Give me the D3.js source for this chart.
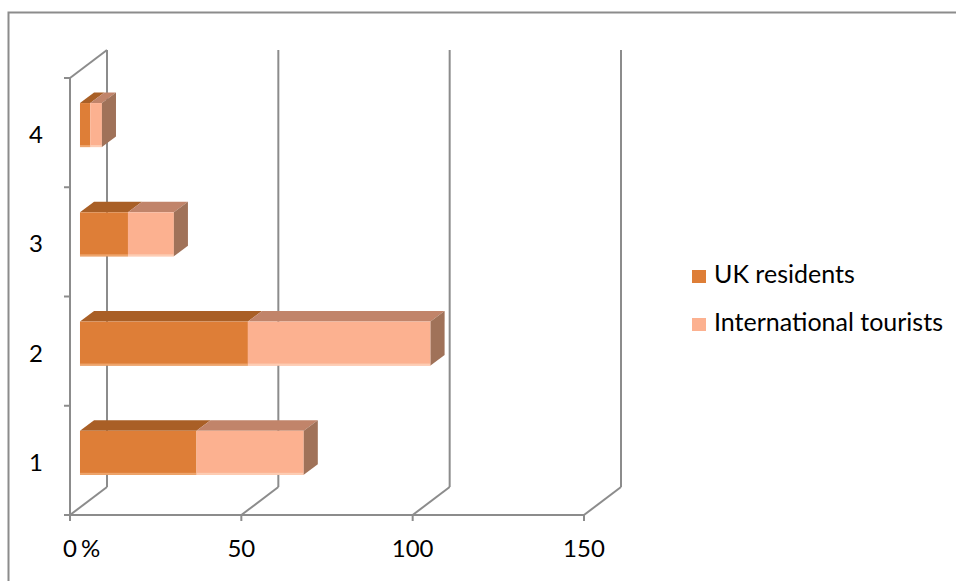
<!DOCTYPE html>
<html><head><meta charset="utf-8">
<script src="https://cdn.jsdelivr.net/npm/d3@7"></script>
<style>body{margin:0;background:#fff}svg{display:block}text{font-family:Lato,"Open Sans",sans-serif;fill:#000}</style>
</head><body><svg id="c" width="956" height="581"></svg>
<script>
const categories = ["1","2","3","4"];
const seriesNames = ["UK residents","International tourists"];
const ukResidents = [34, 49, 14, 3];
const internationalTourists = [31.3, 53.3, 13.4, 3.4];
const xTicks = [0, 50, 100, 150];
const colorsFront = ["#DE7E37","#FCB190"];
const colorsTop = ["#A95F26","#C1846A"];
const colorsSide = ["#A36C3E","#A07259"];
const colorsEdge = ["#EEA56C","#FDCDB4"];

const svg = d3.select("#c");
// outer frame
svg.append("rect").attr("x",8.5).attr("y",12.5).attr("width",1000).attr("height",1000)
  .attr("fill","none").attr("stroke","#8C8C8C").attr("stroke-width",2);

const x = d3.scaleLinear().domain([0,150]).range([70,584]);
const y = d3.scaleBand().domain(categories).range([515,78]);
const DX = 37, DY = -28; // depth vector
const grey = "#8C8C8C";
const g = svg.append("g");

// back wall gridlines + floor diagonals
xTicks.forEach(t => {
  const xf = x(t);
  g.append("line").attr("x1",xf+DX).attr("x2",xf+DX).attr("y1",515+DY).attr("y2",78+DY)
    .attr("stroke",grey).attr("stroke-width",2);
  g.append("line").attr("x1",xf).attr("y1",515).attr("x2",xf+DX).attr("y2",515+DY)
    .attr("stroke",grey).attr("stroke-width",2);
});
// left wall
g.append("line").attr("x1",70).attr("x2",70).attr("y1",78).attr("y2",515).attr("stroke",grey).attr("stroke-width",2);
g.append("line").attr("x1",70).attr("y1",78).attr("x2",70+DX).attr("y2",78+DY).attr("stroke",grey).attr("stroke-width",2);
// bottom axis
g.append("line").attr("x1",70).attr("x2",x(150)).attr("y1",515).attr("y2",515).attr("stroke",grey).attr("stroke-width",2);
xTicks.forEach(t => {
  g.append("line").attr("x1",x(t)).attr("x2",x(t)).attr("y1",515).attr("y2",521).attr("stroke",grey).attr("stroke-width",2);
  svg.append("text").attr("x",x(t)).attr("y",557).attr("text-anchor","middle").attr("font-size",24).text(t);
});
svg.append("text").attr("x",81).attr("y",557).attr("font-size",24).text("%");
// left ticks
const yTickPos = [515].concat(categories.map(c => y(c)));
yTickPos.forEach(p => {
  g.append("line").attr("x1",64).attr("x2",70).attr("y1",p).attr("y2",p).attr("stroke",grey).attr("stroke-width",2);
});
categories.forEach(c => {
  svg.append("text").attr("x",43).attr("y",y(c)+y.bandwidth()/2+2).attr("dy","0.35em")
    .attr("text-anchor","end").attr("font-size",24).text(c);
});

// bars
const f0 = 0.27, ft = 0.38;
const bh = 44;
const data = categories.map((c,i) => ({c, vals:[ukResidents[i], internationalTourists[i]]}));
data.slice().reverse().forEach(d => {
  const yc = y(d.c) + y.bandwidth()/2;
  const yt = yc - bh/2 + f0*DY, yb = yc + bh/2 + f0*DY;
  const ox = f0*DX;
  const dx = ft*DX, dy = ft*DY;
  let acc = 0;
  const bg = svg.append("g");
  d.vals.forEach((v,k) => {
    const x0 = x(acc)+ox, x1 = x(acc+v)+ox;
    acc += v;
    bg.append("polygon").attr("points",[[x0,yt],[x1,yt],[x1+dx,yt+dy],[x0+dx,yt+dy]].join(" ")).attr("fill",colorsTop[k]);
    bg.append("rect").attr("x",x0).attr("y",yt).attr("width",x1-x0).attr("height",yb-yt).attr("fill",colorsFront[k]);
    bg.append("rect").attr("x",x0).attr("y",yb-2).attr("width",x1-x0).attr("height",2).attr("fill",colorsEdge[k]);
    if (k === d.vals.length-1) {
      bg.append("polygon").attr("points",[[x1,yt],[x1+dx,yt+dy],[x1+dx,yb+dy],[x1,yb]].join(" ")).attr("fill",colorsSide[k]);
    }
  });
});

// legend
const leg = svg.append("g");
seriesNames.forEach((s,i) => {
  const ly = 270 + i*48;
  leg.append("rect").attr("x",692).attr("y",ly).attr("width",14).attr("height",13).attr("fill",colorsFront[i]);
  leg.append("text").attr("x",714).attr("y",ly+13).attr("font-size",25).text(s);
});
</script></body></html>
